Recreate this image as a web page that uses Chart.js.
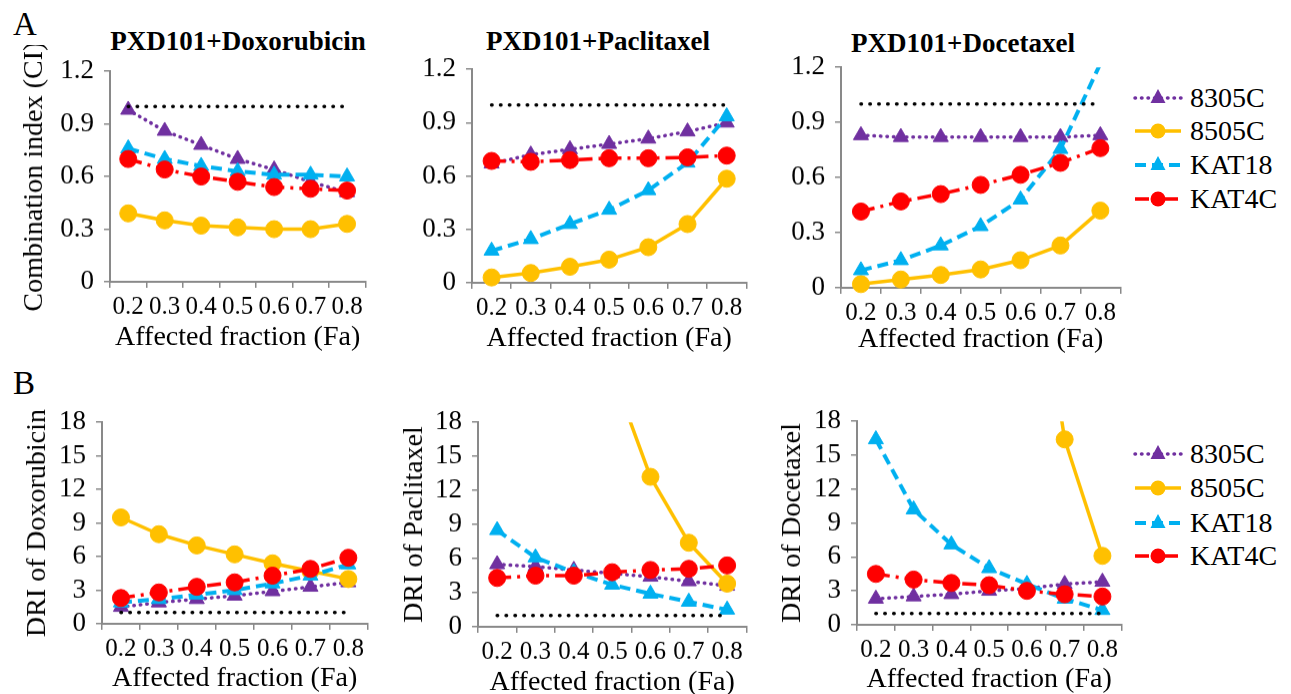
<!DOCTYPE html>
<html lang="en">
  <head>
    <meta charset="UTF-8" />
    <title>PXD101 combinations: CI and DRI</title>
    <script src="https://cdn.jsdelivr.net/npm/chart.js"></script>
    <style>
      body {
        margin: 0;
        background: #fff;
        font-family: "Liberation Serif", "Times New Roman", serif;
        color: #000;
      }
      .page {
        position: relative;
        width: 1291px;
        height: 694px;
        overflow: hidden;
      }
      .box {
        position: absolute;
      }
      .letter {
        position: absolute;
        font-size: 33px;
        line-height: 1;
      }
      .panel-title {
        position: absolute;
        font-size: 27px;
        font-weight: bold;
        line-height: 1;
        white-space: nowrap;
        transform: translateX(-50%);
      }
      .legend-row {
        position: absolute;
        left: 1133px;
        height: 34px;
        display: flex;
        align-items: center;
        font-size: 28px;
        line-height: 1;
        white-space: nowrap;
      }
      .legend-row span {
        margin-left: 7px;
      }
    </style>
  </head>
  <body>
    <div class="page" id="page">
      <div class="letter" style="left: 13px; top: 8px">A</div>
      <div class="letter" style="left: 13px; top: 367px">B</div>
      <div class="panel-title" style="left: 238px; top: 28px">PXD101+Doxorubicin</div>
      <div class="panel-title" style="left: 598px; top: 28px">PXD101+Paclitaxel</div>
      <div class="panel-title" style="left: 963px; top: 30px">PXD101+Docetaxel</div>
    </div>
    <script>
      const faLabels = ["0.2", "0.3", "0.4", "0.5", "0.6", "0.7", "0.8"];
      const cellLines = ["8305C", "8505C", "KAT18", "KAT4C"];
      const ciTicks = [0, 0.3, 0.6, 0.9, 1.2];
      const driTicks = [0, 3, 6, 9, 12, 15, 18];
      const ciLine = [1, 1, 1, 1, 1, 1, 1];
      const driLine = [1, 1, 1, 1, 1, 1, 1];

      // A - combination index
      const ciDox8305 = [0.98, 0.86, 0.78, 0.7, 0.64, 0.57, 0.51];
      const ciDox8505 = [0.39, 0.35, 0.32, 0.31, 0.3, 0.3, 0.33];
      const ciDoxKat18 = [0.76, 0.7, 0.66, 0.63, 0.61, 0.61, 0.6];
      const ciDoxKat4c = [0.7, 0.64, 0.6, 0.57, 0.54, 0.53, 0.52];

      const ciPac8305 = [0.67, 0.72, 0.75, 0.78, 0.81, 0.85, 0.9];
      const ciPac8505 = [0.03, 0.055, 0.09, 0.13, 0.2, 0.33, 0.585];
      const ciPacKat18 = [0.18, 0.245, 0.33, 0.41, 0.52, 0.675, 0.935];
      const ciPacKat4c = [0.685, 0.68, 0.69, 0.7, 0.7, 0.705, 0.715];

      const ciDoc8305 = [0.83, 0.82, 0.82, 0.82, 0.82, 0.82, 0.83];
      const ciDoc8505 = [0.02, 0.045, 0.07, 0.1, 0.15, 0.23, 0.42];
      const ciDocKat18 = [0.095, 0.15, 0.23, 0.335, 0.48, 0.755, 1.22];
      const ciDocKat4c = [0.415, 0.47, 0.51, 0.56, 0.615, 0.68, 0.76];

      // B - dose reduction index (null = off the scale, not readable)
      const driDox8305 = [1.5, 1.9, 2.2, 2.5, 2.9, 3.3, 3.7];
      const driDox8505 = [9.5, 8.0, 7.0, 6.2, 5.4, 4.7, 4.0];
      const driDoxKat18 = [1.9, 2.2, 2.6, 3.0, 3.6, 4.3, 5.3];
      const driDoxKat4c = [2.3, 2.8, 3.3, 3.7, 4.3, 4.9, 5.9];

      const driPac8305 = [5.5, 5.3, 5.0, 4.7, 4.4, 4.0, 3.6];
      const driPac8505 = [null, null, null, 22.4, 13.2, 7.4, 3.8];
      const driPacKat18 = [8.5, 6.1, 4.8, 3.7, 2.9, 2.2, 1.5];
      const driPacKat4c = [4.3, 4.5, 4.5, 4.8, 5.0, 5.1, 5.4];

      const driDoc8305 = [2.3, 2.5, 2.7, 3.0, 3.2, 3.6, 3.8];
      const driDoc8505 = [null, null, null, null, 38, 16.4, 6.1];
      const driDocKat18 = [16.4, 10.2, 7.1, 5.0, 3.6, 2.3, 1.3];
      const driDocKat4c = [4.5, 4.0, 3.7, 3.5, 3.0, 2.7, 2.5];

      const serif = '"Liberation Serif", "Times New Roman", serif';
      const axisGray = "#898989";

      const styles = [
        { color: "#7030A0", shape: "triangle", radius: 8.7, width: 3.5, dash: [0.5, 6], cap: "round" },
        { color: "#FFC000", shape: "circle", radius: 8.5, width: 3.5, dash: [], cap: "butt" },
        { color: "#00B0F0", shape: "triangle", radius: 8.7, width: 4, dash: [11, 6], cap: "butt" },
        { color: "#FF0000", shape: "circle", radius: 8.5, width: 3.5, dash: [14, 6, 3, 6], cap: "butt" },
      ];

      // chart area of each panel in page pixels
      const panels = [
        { area: [110, 65, 367, 281], yW: 110, yTitle: "Combination index (CI)", yPad: 18, xGap: 56, ticks: ciTicks, ref: ciLine, series: [ciDox8305, ciDox8505, ciDoxKat18, ciDoxKat4c] },
        { area: [472, 63, 748, 282], yW: 57, yTitle: null, yPad: 0, xGap: 56, ticks: ciTicks, ref: ciLine, series: [ciPac8305, ciPac8505, ciPacKat18, ciPacKat4c] },
        { area: [841, 61, 1122, 287], yW: 56, yTitle: null, yPad: 0, xGap: 52, ticks: ciTicks, ref: ciLine, series: [ciDoc8305, ciDoc8505, ciDocKat18, ciDocKat4c] },
        { area: [102, 416, 369, 623], yW: 102, yTitle: "DRI of Doxorubicin", yPad: 21, xGap: 55, ticks: driTicks, ref: driLine, series: [driDox8305, driDox8505, driDoxKat18, driDoxKat4c] },
        { area: [478, 416, 748, 626], yW: 83, yTitle: "DRI of Paclitaxel", yPad: 3, xGap: 56, ticks: driTicks, ref: driLine, series: [driPac8305, driPac8505, driPacKat18, driPacKat4c] },
        { area: [857, 415, 1123, 624], yW: 82, yTitle: "DRI of Docetaxel", yPad: 1, xGap: 55, ticks: driTicks, ref: driLine, series: [driDoc8305, driDoc8505, driDocKat18, driDocKat4c] },
      ];

      const page = document.getElementById("page");
      const padTop = 20;
      const padRight = 8;

      panels.forEach(function (p, n) {
        const [aL, aT, aR, aB] = p.area;
        const xH = p.xGap + 16.8;
        const left = aL - p.yW;
        const top = aT - padTop;
        const box = document.createElement("div");
        box.className = "box";
        box.style.left = left + "px";
        box.style.top = top + "px";
        box.style.width = aR + padRight - left + "px";
        box.style.height = aB + xH - top + "px";
        const canvas = document.createElement("canvas");
        box.appendChild(canvas);
        page.appendChild(box);

        const yMax = p.ticks[p.ticks.length - 1];
        const datasets = [
          {
            label: "reference",
            data: p.ref,
            borderColor: "#000",
            borderWidth: 3.5,
            borderDash: [0.5, 8.4],
            borderCapStyle: "round",
            pointRadius: 0,
            order: 0,
          },
        ];
        p.series.forEach(function (d, i) {
          const st = styles[i];
          datasets.push({
            label: cellLines[i],
            data: d,
            borderColor: st.color,
            backgroundColor: st.color,
            pointBackgroundColor: st.color,
            pointBorderColor: st.color,
            pointBorderWidth: 1,
            pointStyle: st.shape,
            pointRadius: (ctx) => (ctx.raw == null || ctx.raw > yMax ? 0 : st.radius),
            borderWidth: st.width,
            borderDash: st.dash,
            borderCapStyle: st.cap,
            borderJoinStyle: "round",
            tension: 0,
            order: 4 - i,
            clip: { left: 30, right: 30, top: 0, bottom: 30 },
          });
        });

        new Chart(canvas, {
          type: "line",
          data: { labels: faLabels, datasets: datasets },
          options: {
            responsive: true,
            maintainAspectRatio: false,
            animation: false,
            events: [],
            layout: { padding: { top: padTop, right: padRight, left: 0, bottom: 0 } },
            plugins: { legend: { display: false }, tooltip: { enabled: false }, title: { display: false } },
            scales: {
              x: {
                type: "category",
                offset: true,
                afterFit: (s) => {
                  s.height = xH;
                },
                grid: { display: true, offset: true, drawOnChartArea: false, drawTicks: true, tickLength: 6, color: axisGray, lineWidth: 1.5 },
                border: { display: true, color: axisGray, width: 2 },
                ticks: { color: "#000", font: { family: serif, size: 25 }, padding: 4, maxRotation: 0, autoSkip: false },
                title: { display: true, text: "Affected fraction (Fa)", color: "#000", font: { family: serif, size: 28 }, padding: { top: 0, bottom: 0 } },
              },
              y: {
                min: p.ticks[0],
                max: yMax,
                afterBuildTicks: (s) => {
                  s.ticks = p.ticks.map((v) => ({ value: v }));
                },
                afterFit: (s) => {
                  s.width = p.yW;
                },
                grid: { display: true, drawOnChartArea: false, drawTicks: true, tickLength: 6, color: axisGray, lineWidth: 1.5 },
                border: { display: true, color: axisGray, width: 2 },
                ticks: { color: "#000", font: { family: serif, size: 27 }, padding: 10, autoSkip: false, callback: (v) => String(v) },
                title: p.yTitle
                  ? { display: true, text: p.yTitle, color: "#000", font: { family: serif, size: 28 }, padding: { top: p.yPad, bottom: 0 } }
                  : { display: false },
              },
            },
          },
        });
      });

      // legends at the right of each row
      const legendRows = [
        [97.5, 131, 165, 199],
        [454, 487.5, 522.5, 556],
      ];
      const svgNS = "http://www.w3.org/2000/svg";
      legendRows.forEach(function (rows) {
        rows.forEach(function (cy, i) {
          const st = styles[i];
          const row = document.createElement("div");
          row.className = "legend-row";
          row.style.top = cy - 17 + "px";
          const svg = document.createElementNS(svgNS, "svg");
          svg.setAttribute("width", "50");
          svg.setAttribute("height", "30");
          const line = document.createElementNS(svgNS, "line");
          line.setAttribute("x1", "2");
          line.setAttribute("x2", "48");
          line.setAttribute("y1", "15");
          line.setAttribute("y2", "15");
          line.setAttribute("stroke", st.color);
          line.setAttribute("stroke-width", st.width);
          line.setAttribute("stroke-linecap", st.cap);
          if (st.dash.length) line.setAttribute("stroke-dasharray", st.dash.join(" "));
          svg.appendChild(line);
          let mark;
          if (st.shape === "circle") {
            mark = document.createElementNS(svgNS, "circle");
            mark.setAttribute("cx", "25");
            mark.setAttribute("cy", "15");
            mark.setAttribute("r", "7.5");
          } else {
            mark = document.createElementNS(svgNS, "polygon");
            mark.setAttribute("points", "25,6 32.5,20 17.5,20");
          }
          mark.setAttribute("fill", st.color);
          svg.appendChild(mark);
          row.appendChild(svg);
          const label = document.createElement("span");
          label.textContent = cellLines[i];
          row.appendChild(label);
          page.appendChild(row);
        });
      });
    </script>
  </body>
</html>
